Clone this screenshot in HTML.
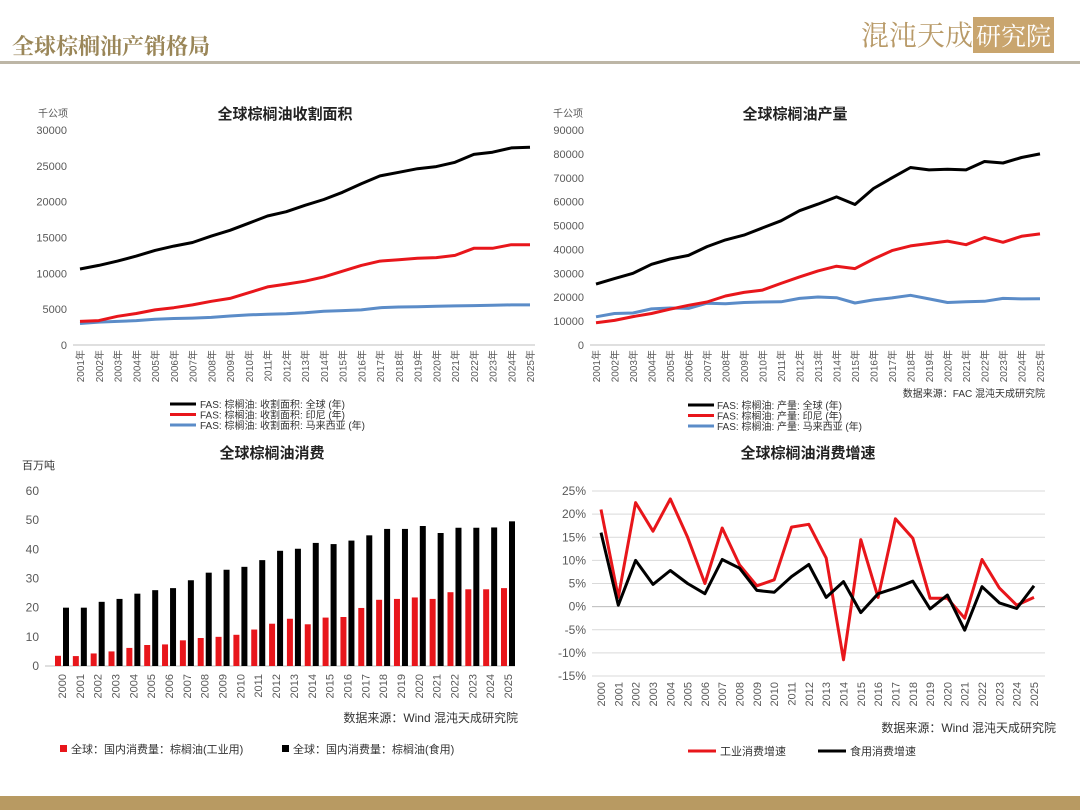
<!DOCTYPE html>
<html><head><meta charset="utf-8">
<style>
body{margin:0;width:1080px;height:810px;background:#fff;overflow:hidden;position:relative;font-family:"Liberation Sans","Noto Sans CJK SC",sans-serif}
#hdr{position:absolute;left:12px;top:30px;font-size:22px;font-weight:bold;color:#9a8658;font-family:"Noto Serif CJK SC","Noto Sans CJK SC",serif}
#logo{position:absolute;right:26px;top:14px;font-size:28px;color:#b89a68;font-family:"Noto Serif CJK SC",serif}
#logo span{background:#c9a56e;color:#fff;padding:0 3px;font-size:25px}
#line{position:absolute;left:0;top:61px;width:1080px;height:3px;background:#bdb6a6}
#foot{position:absolute;left:0;top:796px;width:1080px;height:14px;background:#b89a62}
svg{position:absolute;left:0;top:0}
</style></head><body>
<div id="hdr">全球棕榈油产销格局</div>
<div id="logo">混沌天成<span>研究院</span></div>
<div id="line"></div>
<div id="foot"></div>
<svg id="s" width="1080" height="810"></svg>
<script>
const years1 = ["2001年","2002年","2003年","2004年","2005年","2006年","2007年","2008年","2009年","2010年","2011年","2012年","2013年","2014年","2015年","2016年","2017年","2018年","2019年","2020年","2021年","2022年","2023年","2024年","2025年"];
const areaWorld = [10600,11100,11700,12400,13200,13800,14300,15200,16000,17000,18000,18600,19500,20300,21300,22500,23600,24100,24600,24900,25500,26600,26900,27500,27600];
const areaIndo = [3300,3400,4000,4400,4900,5200,5600,6100,6500,7300,8100,8500,8900,9500,10300,11100,11700,11900,12100,12200,12500,13500,13500,14000,14000];
const areaMy = [3000,3200,3300,3400,3600,3700,3750,3850,4050,4200,4300,4350,4500,4700,4800,4900,5200,5300,5350,5400,5450,5500,5550,5600,5600];
const areaTicks = [0,5000,10000,15000,20000,25000,30000];
const prodWorld = [25500,27800,30000,33800,36000,37500,41200,44000,46000,49000,52000,56200,59000,62000,58800,65500,70000,74300,73300,73600,73300,76800,76200,78500,80000];
const prodIndo = [9300,10300,11900,13200,15000,16600,18000,20500,22000,23000,25800,28500,31000,33000,32000,36000,39500,41500,42500,43500,42000,45000,43000,45500,46500];
const prodMy = [11800,13200,13400,15100,15500,15300,17500,17300,17800,18000,18100,19500,20100,19800,17600,18900,19700,20800,19300,17800,18100,18300,19500,19300,19400];
const prodTicks = [0,10000,20000,30000,40000,50000,60000,70000,80000,90000];
const years2 = ["2000","2001","2002","2003","2004","2005","2006","2007","2008","2009","2010","2011","2012","2013","2014","2015","2016","2017","2018","2019","2020","2021","2022","2023","2024","2025"];
const consInd = [3.5,3.4,4.3,5,6.2,7.2,7.4,8.8,9.6,10,10.7,12.5,14.5,16.2,14.3,16.6,16.8,19.9,22.7,23,23.5,23,25.3,26.3,26.3,26.7];
const consFood = [20,20,22,23,24.8,26,26.7,29.4,32,33,34,36.3,39.5,40.2,42.2,41.8,43,44.8,47,47,48,45.6,47.4,47.4,47.5,49.6];
const consTicks = [0,10,20,30,40,50,60];
const growInd = [21,2,22.5,16.3,23.3,15,5,17,9,4.5,5.8,17.2,17.8,10.5,-11.5,14.5,2,19,14.8,1.8,1.8,-2.5,10.2,4,0.3,2];
const growFood = [16,0.3,10,4.8,7.8,5,2.8,10.2,8.3,3.5,3.1,6.5,9.1,2,5.4,-1.3,2.8,4,5.5,-0.5,2.5,-5.1,4.3,0.8,-0.4,4.5];
const growTicks = [-15,-10,-5,0,5,10,15,20,25];

const S=document.getElementById('s');const NS='http://www.w3.org/2000/svg';
function mk(t,a,txt){const e=document.createElementNS(NS,t);for(const k in a)e.setAttribute(k,a[k]);if(txt!==undefined)e.textContent=txt;S.appendChild(e);return e;}
function lin(v,d0,d1,r0,r1){return r0+(v-d0)/(d1-d0)*(r1-r0);}
function txt(x,y,s,o){const e=mk('text',Object.assign({x:x,y:y,'font-size':11,fill:'#595959','font-family':'"Liberation Sans","Noto Sans CJK SC",sans-serif'},o||{}),s);return e;}

function axes(c){
  c.ticks.forEach(t=>{const y=lin(t,c.min,c.max,c.yb,c.yt);
    if(c.grid){const g=mk('line',{x1:c.x0,x2:c.x1,y1:y,y2:y,stroke:'#d9d9d9','stroke-width':1});}
    const l=txt(c.x0-6,y+4,c.fmt?c.fmt(t):String(t),{'text-anchor':'end','font-size':c.fs||11});
    });
  const zy=lin(c.zero!==undefined?c.zero:c.min,c.min,c.max,c.yb,c.yt);
  const ax=mk('line',{x1:c.x0,x2:c.x1,y1:zy,y2:zy,stroke:'#bfbfbf','stroke-width':1});
  
  c.cats.forEach((cat,i)=>{const x=c.cx(i);const y=c.labY;
    const l=txt(x+4,y,cat,{'text-anchor':'end',transform:'rotate(-90 '+(x+4)+' '+y+')','font-size':c.lfs||10});
    });
}
function series(c,vals,col,name){
  const p=vals.map((v,i)=>c.cx(i).toFixed(1)+','+lin(v,c.min,c.max,c.yb,c.yt).toFixed(1)).join(' ');
  const e=mk('polyline',{points:p,fill:'none',stroke:col,'stroke-width':c.sw||3,'stroke-linejoin':'round'});
  
}

// Chart 1
const c1={x0:73,x1:535,yt:130,yb:345,min:0,max:30000,ticks:areaTicks,cats:years1,labY:350,cx:i=>lin(i,0,24,80,530)};
axes(c1);
series(c1,areaMy,'#5b8cc8','line-area-malaysia');series(c1,areaIndo,'#e8161b','line-area-indonesia');series(c1,areaWorld,'#000','line-area-world');
let t=txt(285,119,'全球棕榈油收割面积',{'text-anchor':'middle','font-size':15,fill:'#222','font-weight':'bold'});
t=txt(38,117,'千公项',{'font-size':10});
[['FAS: 棕榈油: 收割面积: 全球 (年)','#000'],['FAS: 棕榈油: 收割面积: 印尼 (年)','#e8161b'],['FAS: 棕榈油: 收割面积: 马来西亚 (年)','#5b8cc8']].forEach((L,i)=>{
  const y=404+i*10.5;const l=mk('line',{x1:170,x2:196,y1:y,y2:y,stroke:L[1],'stroke-width':3});
  const tt=txt(200,y+4,L[0],{'font-size':10,fill:'#333'});});

// Chart 2
const c2={x0:590,x1:1045,yt:130,yb:345,min:0,max:90000,ticks:prodTicks,cats:years1,labY:350,cx:i=>lin(i,0,24,596,1040)};
axes(c2);
series(c2,prodMy,'#5b8cc8','line-prod-malaysia');series(c2,prodIndo,'#e8161b','line-prod-indonesia');series(c2,prodWorld,'#000','line-prod-world');
t=txt(795,119,'全球棕榈油产量',{'text-anchor':'middle','font-size':15,fill:'#222','font-weight':'bold'});
t=txt(553,117,'千公项',{'font-size':10});
t=txt(1045,397,'数据来源：FAC  混沌天成研究院',{'text-anchor':'end','font-size':10,fill:'#333'});
[['FAS: 棕榈油: 产量: 全球 (年)','#000'],['FAS: 棕榈油: 产量: 印尼 (年)','#e8161b'],['FAS: 棕榈油: 产量: 马来西亚 (年)','#5b8cc8']].forEach((L,i)=>{
  const y=405+i*10.5;const l=mk('line',{x1:688,x2:714,y1:y,y2:y,stroke:L[1],'stroke-width':3});
  const tt=txt(717,y+4,L[0],{'font-size':10,fill:'#333'});});

// Chart 3
const c3={x0:45,x1:515,yt:491,yb:666,min:0,max:60,ticks:consTicks,cats:years2,labY:674,lfs:11,fs:12,cx:i=>lin(i,0,25,62,508)};
axes(c3);
consInd.forEach((v,i)=>{const y=lin(v,0,60,666,491);const b=mk('rect',{x:c3.cx(i)-7,y:y,width:6,height:666-y,fill:'#e8161b'});});
consFood.forEach((v,i)=>{const y=lin(v,0,60,666,491);const b=mk('rect',{x:c3.cx(i)+1,y:y,width:6,height:666-y,fill:'#000'});});
t=txt(272,458,'全球棕榈油消费',{'text-anchor':'middle','font-size':15,fill:'#222','font-weight':'bold'});
t=txt(22,469,'百万吨',{'font-size':11,fill:'#333'});
t=txt(518,722,'数据来源：Wind 混沌天成研究院',{'text-anchor':'end','font-size':12,fill:'#333'});
t=mk('rect',{x:60,y:745,width:7,height:7,fill:'#e8161b'});
t=txt(71,753,'全球：国内消费量：棕榈油(工业用)',{'font-size':11,fill:'#333'});
t=mk('rect',{x:282,y:745,width:7,height:7,fill:'#000'});
t=txt(293,753,'全球：国内消费量：棕榈油(食用)',{'font-size':11,fill:'#333'});

// Chart 4
const c4={x0:592,x1:1045,yt:491,yb:676,min:-15,max:25,zero:0,ticks:growTicks,cats:years2,labY:682,lfs:11,fs:12,grid:true,sw:3,fmt:v=>v+'%',cx:i=>lin(i,0,25,601,1034)};
axes(c4);
series(c4,growInd,'#e8161b','line-industrial-growth');series(c4,growFood,'#000','line-food-growth');
t=txt(808,458,'全球棕榈油消费增速',{'text-anchor':'middle','font-size':15,fill:'#222','font-weight':'bold'});
t=txt(1056,732,'数据来源：Wind 混沌天成研究院',{'text-anchor':'end','font-size':12,fill:'#333'});
t=mk('line',{x1:688,x2:716,y1:751,y2:751,stroke:'#e8161b','stroke-width':3});
t=txt(720,755,'工业消费增速',{'font-size':11,fill:'#333'});
t=mk('line',{x1:818,x2:846,y1:751,y2:751,stroke:'#000','stroke-width':3});
t=txt(850,755,'食用消费增速',{'font-size':11,fill:'#333'});
</script>
</body></html>
